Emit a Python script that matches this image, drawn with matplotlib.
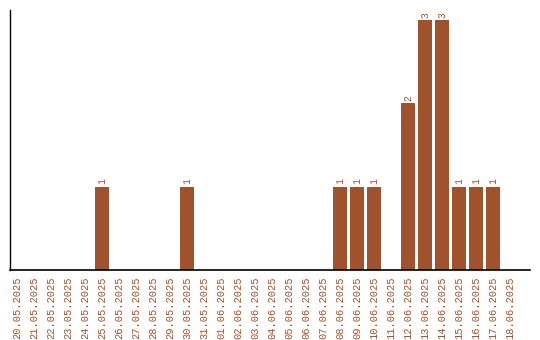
import matplotlib
matplotlib.use("Agg")
import matplotlib.pyplot as plt

dates = ["20.05.2025", "21.05.2025", "22.05.2025", "23.05.2025", "24.05.2025",
         "25.05.2025", "26.05.2025", "27.05.2025", "28.05.2025", "29.05.2025",
         "30.05.2025", "31.05.2025", "01.06.2025", "02.06.2025", "03.06.2025",
         "04.06.2025", "05.06.2025", "06.06.2025", "07.06.2025", "08.06.2025",
         "09.06.2025", "10.06.2025", "11.06.2025", "12.06.2025", "13.06.2025",
         "14.06.2025", "15.06.2025", "16.06.2025", "17.06.2025", "18.06.2025"]
counts = [0, 0, 0, 0, 0, 1, 0, 0, 0, 0,
          1, 0, 0, 0, 0, 0, 0, 0, 0, 1,
          1, 1, 0, 2, 3, 3, 1, 1, 1, 0]

color = "#a0522d"
mono = ["Liberation Mono", "DejaVu Sans Mono"]

fig = plt.figure(figsize=(5.4, 3.4), dpi=100)
ax = fig.add_axes([10/540, 70/340, 520/540, 260/340])

x = list(range(len(dates)))
ax.bar(x, counts, width=0.82, color=color)
for i, v in enumerate(counts):
    if v > 0:
        ax.text(i, v + 0.03, str(v), rotation=90, ha="center", va="bottom",
                color=color, fontsize=7, family=mono)

ax.set_xlim(-0.41, 30.18)
ax.set_ylim(0, 3.12)
ax.set_xticks(x)
ax.set_xticklabels(dates, rotation=90, color=color, fontsize=7.5, family=mono)
ax.tick_params(axis="x", length=0, pad=5)
ax.set_yticks([])
ax.spines["top"].set_visible(False)
ax.spines["right"].set_visible(False)
ax.spines["left"].set_linewidth(1)
ax.spines["bottom"].set_linewidth(1.2)

fig.savefig("out.png", dpi=100)
